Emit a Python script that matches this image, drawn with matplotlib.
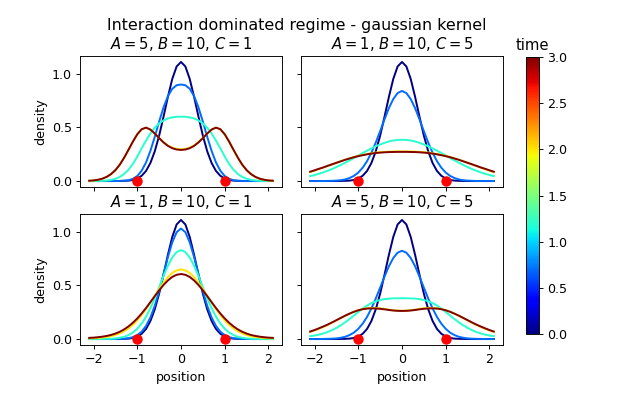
import numpy as np
import matplotlib
matplotlib.use('Agg')
import matplotlib.pyplot as plt

# snapshot times (colour coded with jet)
times = [0.0, 0.7, 1.2, 2.0, 3.0]
tmax = 3.0

# half profiles, x = 0 ... 2.1 (profiles are symmetric around 0)
xh = np.linspace(0.0, 2.1, 22)

# initial density, same in every panel
rho0 = [1.110, 1.068, 0.951, 0.784, 0.599, 0.423, 0.277, 0.168, 0.094, 0.049, 0.023,
        0.010, 0.004, 0.002, 0.001, 0.000, 0.000, 0.000, 0.000, 0.000, 0.000, 0.000]

# A=5, B=10, C=1
a5c1_1 = [0.900, 0.893, 0.860, 0.791, 0.686, 0.554, 0.412, 0.281, 0.173, 0.096, 0.047,
          0.021, 0.008, 0.003, 0.001, 0.000, 0.000, 0.000, 0.000, 0.000, 0.000, 0.000]
a5c1_2 = [0.600, 0.599, 0.594, 0.583, 0.565, 0.537, 0.497, 0.443, 0.377, 0.305, 0.228,
          0.160, 0.106, 0.066, 0.038, 0.021, 0.011, 0.005, 0.002, 0.001, 0.000, 0.000]
a5c1_3 = [0.296, 0.300, 0.311, 0.332, 0.363, 0.402, 0.444, 0.480, 0.497, 0.482, 0.435,
          0.367, 0.291, 0.217, 0.152, 0.101, 0.064, 0.038, 0.021, 0.011, 0.005, 0.002]
a5c1_4 = [0.290, 0.294, 0.306, 0.328, 0.360, 0.400, 0.443, 0.480, 0.498, 0.483, 0.436,
          0.368, 0.292, 0.218, 0.153, 0.102, 0.065, 0.039, 0.022, 0.012, 0.006, 0.003]

# A=1, B=10, C=5
a1c5_1 = [0.840, 0.820, 0.764, 0.679, 0.575, 0.465, 0.359, 0.264, 0.185, 0.124, 0.079,
          0.048, 0.028, 0.015, 0.008, 0.004, 0.002, 0.001, 0.000, 0.000, 0.000, 0.000]
a1c5_2 = [0.385, 0.383, 0.378, 0.369, 0.356, 0.341, 0.324, 0.304, 0.283, 0.261, 0.238,
          0.215, 0.192, 0.171, 0.150, 0.130, 0.112, 0.096, 0.081, 0.068, 0.056, 0.046]
a1c5_3 = [0.276, 0.276, 0.275, 0.274, 0.272, 0.269, 0.265, 0.259, 0.252, 0.244, 0.234,
          0.224, 0.212, 0.199, 0.185, 0.170, 0.155, 0.140, 0.125, 0.111, 0.097, 0.083]
a1c5_4 = [0.272, 0.272, 0.271, 0.270, 0.268, 0.265, 0.261, 0.256, 0.249, 0.241, 0.232,
          0.222, 0.210, 0.198, 0.184, 0.170, 0.156, 0.142, 0.127, 0.114, 0.100, 0.087]

# A=1, B=10, C=1
a1c1_1 = [1.030, 0.996, 0.901, 0.763, 0.604, 0.447, 0.310, 0.201, 0.122, 0.069, 0.037,
          0.018, 0.008, 0.004, 0.001, 0.001, 0.000, 0.000, 0.000, 0.000, 0.000, 0.000]
a1c1_2 = [0.829, 0.811, 0.760, 0.683, 0.587, 0.483, 0.381, 0.288, 0.208, 0.144, 0.096,
          0.061, 0.037, 0.021, 0.012, 0.006, 0.003, 0.002, 0.001, 0.000, 0.000, 0.000]
a1c1_3 = [0.649, 0.640, 0.616, 0.576, 0.525, 0.466, 0.403, 0.340, 0.278, 0.222, 0.174,
          0.132, 0.099, 0.073, 0.053, 0.038, 0.027, 0.020, 0.014, 0.010, 0.008, 0.006]
a1c1_4 = [0.606, 0.599, 0.579, 0.546, 0.504, 0.454, 0.400, 0.344, 0.289, 0.238, 0.192,
          0.152, 0.118, 0.090, 0.068, 0.051, 0.038, 0.029, 0.022, 0.017, 0.013, 0.011]

# A=5, B=10, C=5
a5c5_1 = [0.823, 0.805, 0.755, 0.678, 0.582, 0.479, 0.378, 0.285, 0.206, 0.143, 0.095,
          0.060, 0.037, 0.021, 0.012, 0.006, 0.003, 0.002, 0.001, 0.000, 0.000, 0.000]
a5c5_2 = [0.380, 0.380, 0.379, 0.377, 0.372, 0.364, 0.352, 0.335, 0.312, 0.284, 0.252,
          0.219, 0.186, 0.156, 0.128, 0.104, 0.083, 0.066, 0.052, 0.041, 0.033, 0.027]
a5c5_3 = [0.264, 0.265, 0.268, 0.274, 0.281, 0.286, 0.289, 0.289, 0.287, 0.280, 0.269,
          0.254, 0.236, 0.216, 0.195, 0.173, 0.152, 0.131, 0.113, 0.096, 0.080, 0.066]
a5c5_4 = [0.262, 0.263, 0.266, 0.271, 0.277, 0.282, 0.285, 0.286, 0.284, 0.278, 0.268,
          0.254, 0.237, 0.218, 0.197, 0.176, 0.155, 0.135, 0.117, 0.100, 0.084, 0.070]

panels = [
    ('$A = 5$, $B = 10$, $C = 1$', [rho0, a5c1_1, a5c1_2, a5c1_3, a5c1_4]),
    ('$A = 1$, $B = 10$, $C = 5$', [rho0, a1c5_1, a1c5_2, a1c5_3, a1c5_4]),
    ('$A = 1$, $B = 10$, $C = 1$', [rho0, a1c1_1, a1c1_2, a1c1_3, a1c1_4]),
    ('$A = 5$, $B = 10$, $C = 5$', [rho0, a5c5_1, a5c5_2, a5c5_3, a5c5_4]),
]

# particle positions (red dots)
dots_x = [-1.0, 1.0]
dots_y = [0.0, 0.0]


def full(half):
    half = np.asarray(half)
    return np.concatenate([half[::-1], half[1:]])


x = np.concatenate([-xh[::-1], xh[1:]])

cmap = plt.get_cmap('jet')
norm = matplotlib.colors.Normalize(vmin=0, vmax=tmax)

dpi = 83
plt.rcParams['xtick.labelsize'] = 11
plt.rcParams['ytick.labelsize'] = 11
plt.rcParams['axes.labelsize'] = 11
fig, axes = plt.subplots(2, 2, sharex=True, sharey=True,
                         figsize=(631 / dpi, 394 / dpi), dpi=dpi)

pos = [[80, 56], [301, 56], [80, 214], [301, 214]]
for ax, (title, curves), (px, py) in zip(axes.flat, panels, pos):
    ax.set_position([px / 631, 1 - (py + 131) / 394, 202 / 631, 131 / 394])
    for t, c in zip(times, curves):
        ax.plot(x, full(c), color=cmap(norm(t)), lw=1.7)
    ax.plot(dots_x, dots_y, 'o', color='red', ms=8, zorder=5)
    ax.set_title(title, fontsize=12.8)

for ax in axes[:, 0]:
    ax.set_ylabel('density')
for ax in axes[1, :]:
    ax.set_xlabel('position')
axes[0, 0].set_yticks([0.0, 0.5, 1.0])
axes[0, 0].set_xticks([-2, -1, 0, 1, 2])

cax = fig.add_axes([526 / 631, 1 - 334 / 394, 13 / 631, 277 / 394])
sm = matplotlib.cm.ScalarMappable(norm=norm, cmap=cmap)
cb = fig.colorbar(sm, cax=cax)
cb.set_ticks([0.0, 0.5, 1.0, 1.5, 2.0, 2.5, 3.0])
cax.set_title('time', fontsize=12.8)

fig.suptitle('Interaction dominated regime - gaussian kernel', x=0.47, y=1 - 30 / 394,
             va='baseline', fontsize=13.8)

plt.savefig('out.png', dpi=dpi)
